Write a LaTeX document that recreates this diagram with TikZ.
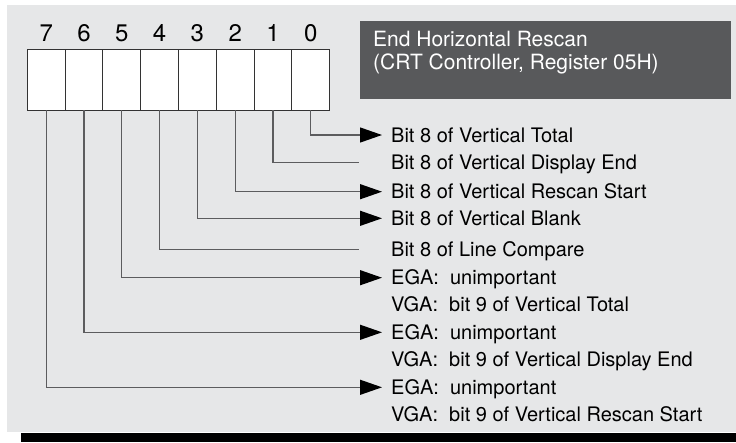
\documentclass[tikz,border=0pt]{standalone}
\usepackage{fontspec}
\setmainfont{TeX Gyre Heros}
\usetikzlibrary{positioning,arrows.meta}
\definecolor{panel}{HTML}{E6E7E8}
\definecolor{slate}{HTML}{58595B}
\definecolor{wire}{HTML}{5C5C5E}

\begin{document}
\begin{tikzpicture}[x=1pt, y=-1pt,
  cell/.style={
    draw=black!80, fill=white, line width=0.9pt,
    minimum width=37.8pt, minimum height=60.5pt,
    inner sep=0pt, outer sep=0pt
  },
  bitnum/.style={font=\fontsize{24}{24}\selectfont, inner sep=0pt},
  lbl/.style={
    font=\fontsize{20}{24}\selectfont, inner sep=0pt, anchor=west,
    text height=14.4pt, text depth=0pt
  },
  titlebox/.style={
    fill=slate, minimum width=371pt, minimum height=78pt,
    inner sep=0pt, anchor=north west
  },
  titletext/.style={
    text=white, align=left, font=\fontsize{21}{23}\selectfont,
    inner sep=0pt, anchor=north west
  },
  link/.style={wire, line width=1.2pt},
  arrowlink/.style={link, -{Triangle[length=22pt, width=15pt, color=black]}, shorten >=9pt},
  stublink/.style={link, shorten >=32pt},
]
\useasboundingbox (0,0) rectangle (736,442);

%% Panel and bottom bar
\fill[panel] (7,5) rectangle (736,432);
\fill[black] (21,433) rectangle (736,442);

%% Title box
\node[titlebox] (title) at (360,21) {};
\node[titletext] (titletxt) at (373,31) {End Horizontal Rescan\\(CRT Controller, Register 05H)};

%% Register cells (bit 7 on the left)
\node[cell] (c7) at (46.2, 79.75) {};
\node[cell] (c6) at (84.0, 79.75) {};
\node[cell] (c5) at (121.8,79.75) {};
\node[cell] (c4) at (159.6,79.75) {};
\node[cell] (c3) at (197.4,79.75) {};
\node[cell] (c2) at (235.2,79.75) {};
\node[cell] (c1) at (273.0,79.75) {};
\node[cell] (c0) at (310.8,79.75) {};

%% Bit numbers
\node[bitnum, above=7.5pt of c7] (n7) {7};
\node[bitnum, above=7.5pt of c6] (n6) {6};
\node[bitnum, above=7.5pt of c5] (n5) {5};
\node[bitnum, above=7.5pt of c4] (n4) {4};
\node[bitnum, above=7.5pt of c3] (n3) {3};
\node[bitnum, above=7.5pt of c2] (n2) {2};
\node[bitnum, above=7.5pt of c1] (n1) {1};
\node[bitnum, above=7.5pt of c0] (n0) {0};

%% Bit descriptions
\node[lbl] (l0) at (391,135)   {Bit 8 of Vertical Total};
\node[lbl] (l1) at (391,162.7) {Bit 8 of Vertical Display End};
\node[lbl] (l2) at (391,191.7) {Bit 8 of Vertical Rescan Start};
\node[lbl] (l3) at (391,218.3) {Bit 8 of Vertical Blank};
\node[lbl] (l4) at (391,249.3) {Bit 8 of Line Compare};
\node[lbl] (l5) at (391,277.7) {EGA:\ \ unimportant};
\node[lbl, below=12.1pt of l5.south west, anchor=north west] (v5) {VGA:\ \ bit 9 of Vertical Total};
\node[lbl] (l6) at (391,332.3) {EGA:\ \ unimportant};
\node[lbl, below=12.1pt of l6.south west, anchor=north west] (v6) {VGA:\ \ bit 9 of Vertical Display End};
\node[lbl] (l7) at (391,387.3) {EGA:\ \ unimportant};
\node[lbl, below=12.1pt of l7.south west, anchor=north west] (v7) {VGA:\ \ bit 9 of Vertical Rescan Start};

%% Connections: down from each cell, then right to its text
\draw[arrowlink] (c0.south) |- (l0.west);
\draw[stublink]  (c1.south) |- (l1.west);
\draw[arrowlink] (c2.south) |- (l2.west);
\draw[arrowlink] (c3.south) |- (l3.west);
\draw[stublink]  (c4.south) |- (l4.west);
\draw[arrowlink] (c5.south) |- (l5.west);
\draw[arrowlink] (c6.south) |- (l6.west);
\draw[arrowlink] (c7.south) |- (l7.west);

\end{tikzpicture}
\end{document}
